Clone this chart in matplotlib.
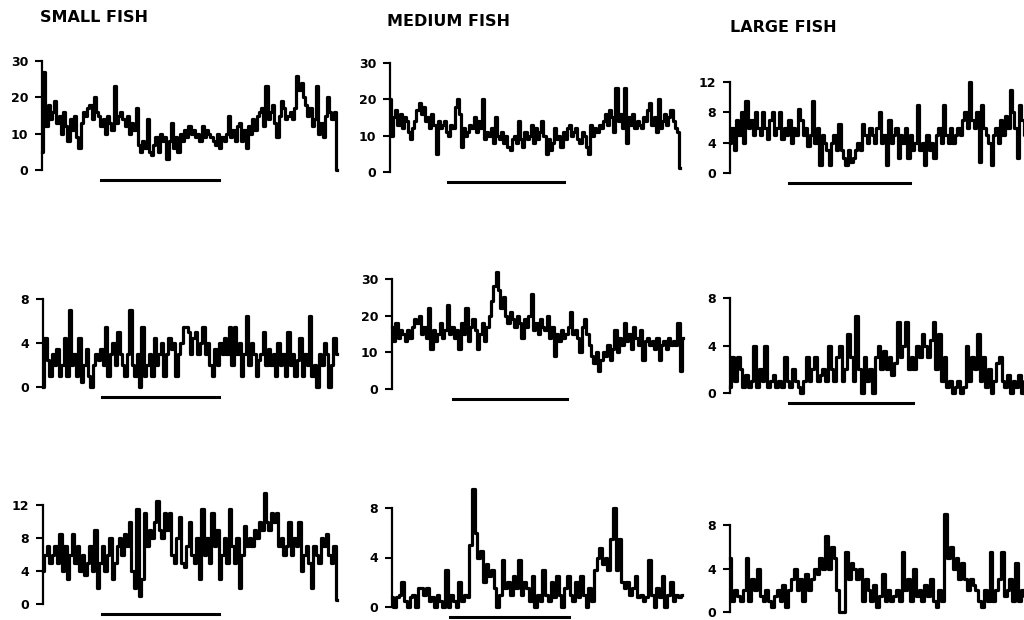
import numpy as np
import matplotlib
matplotlib.use("Agg")
import matplotlib.pyplot as plt

# activity traces, one list per panel
small_1 = [5, 27, 12, 18, 14, 16, 19, 13, 15, 10, 16, 12, 8, 14, 11, 15, 9, 6, 13, 16, 15, 17, 18, 14, 20, 16,
           15, 12, 14, 10, 15, 13, 11, 23, 13, 15, 16, 14, 12, 15, 10, 13, 11, 17, 7, 5, 8, 6, 14, 5, 4, 7, 9,
           5, 10, 8, 9, 3, 8, 13, 6, 9, 5, 10, 8, 11, 9, 12, 10, 11, 9, 10, 8, 12, 9, 11, 10, 9, 8, 7, 10, 6,
           9, 8, 10, 15, 9, 11, 8, 12, 13, 8, 11, 6, 12, 10, 14, 11, 15, 16, 17, 12, 23, 14, 16, 18, 13, 9, 15,
           19, 17, 14, 15, 16, 14, 17, 26, 22, 24, 20, 18, 15, 17, 12, 14, 23, 10, 13, 9, 15, 20, 16, 14, 16, 0]
medium_1 = [20, 10, 15, 17, 13, 16, 12, 15, 14, 11, 9, 12, 14, 17, 19, 16, 18, 14, 15, 12, 16, 13, 5, 14, 12,
            13, 14, 11, 10, 13, 12, 18, 20, 16, 7, 12, 10, 11, 13, 12, 15, 11, 14, 12, 20, 9, 11, 10, 12, 8,
            15, 10, 9, 11, 8, 10, 7, 6, 9, 10, 8, 14, 9, 7, 11, 9, 10, 13, 8, 12, 9, 11, 14, 10, 5, 9, 6, 8,
            12, 9, 10, 7, 11, 9, 12, 13, 10, 11, 12, 9, 8, 11, 10, 7, 5, 13, 10, 12, 11, 13, 12, 14, 16, 13,
            17, 15, 11, 23, 14, 16, 12, 23, 8, 15, 13, 16, 12, 14, 13, 12, 15, 14, 17, 19, 13, 15, 11, 20, 12,
            14, 16, 13, 15, 17, 14, 12, 11, 1]
large_1 = [4, 6, 3, 7, 5, 8, 4, 9.5, 6, 7, 5, 8, 6, 5, 8, 6, 4.5, 7, 8, 5, 6, 8, 4.5, 6, 5, 7, 4, 6, 5, 8.5,
           7, 5, 6, 3.5, 5, 9.5, 4, 6, 1, 5, 4, 3, 1, 4, 5, 3, 6.5, 3, 2, 1, 3, 1.5, 2, 3, 4, 3, 6.5, 5, 4, 6,
           5, 4, 6, 8, 4, 5, 1, 7, 4, 5, 6, 2, 5, 4, 6, 2, 5, 3, 4, 9, 3, 4, 1, 5, 3, 4, 2, 5, 6, 4, 9, 5, 4,
           6, 4, 5, 6, 5, 7, 8, 6, 12, 7, 6, 8, 1.5, 9, 6, 5, 4, 1, 5, 6, 4, 7, 5, 7.5, 6, 11, 8, 6, 2, 9, 7, 5]

small_2 = [0, 4.5, 2.5, 1, 3, 2, 3.5, 1, 2, 4.5, 1, 7, 2, 3, 1, 4.5, 0.5, 2, 3.5, 1, 0, 2, 3, 2.5, 3.5, 2,
           5.5, 1, 3, 4, 2, 5, 3, 2, 1, 3, 7, 2, 1, 3, 0, 5.5, 1, 2, 3, 1, 4.5, 2, 3, 4, 1, 3, 4.5, 3.5, 4, 1,
           3, 4, 5.5, 5.5, 5, 3, 4.5, 5, 3, 4, 5.5, 3, 4, 2, 1, 3.5, 2, 4, 3, 4.5, 3, 5.5, 2, 5.5, 3, 4, 1, 3,
           6.5, 2, 4, 3, 1, 2.5, 3, 5, 2, 3.5, 2, 3, 1, 4, 2, 3, 1, 5, 2, 3, 1, 2.5, 4.5, 1, 3, 2, 6.5, 1, 2,
           0, 3, 2, 4, 3, 0, 2, 4.5, 3]
medium_2 = [17, 13, 18, 14, 16, 15, 13, 16, 14, 17, 19, 18, 20, 15, 17, 14, 22, 11, 16, 13, 15, 18, 14, 16,
            23, 15, 17, 14, 16, 11, 18, 15, 22, 13, 17, 19, 16, 11, 15, 18, 13, 17, 20, 24, 28, 32, 27, 22,
            25, 20, 18, 21, 19, 17, 20, 18, 14, 19, 17, 20, 26, 16, 18, 15, 19, 17, 16, 20, 14, 17, 9, 15,
            13, 16, 14, 15, 17, 21, 15, 16, 14, 10, 17, 19, 15, 12, 9, 7, 10, 5, 8, 10, 9, 12, 8, 11, 16, 10,
            14, 12, 18, 13, 15, 11, 17, 14, 12, 16, 8, 13, 14, 12, 13, 11, 14, 8, 12, 13, 11, 14, 12, 13, 12,
            18, 5, 14]
large_2 = [0.5, 3, 1, 3, 2, 0.5, 1.5, 0.5, 1, 4, 0.5, 2, 1, 4, 0.5, 1, 1.5, 0.5, 1, 0.5, 3, 1, 0.5, 2, 1,
           0.5, 0, 1, 3, 1, 2, 3, 1, 1.5, 2, 1, 4, 2, 1, 3, 4, 1, 2, 5, 3, 1, 6.5, 2, 0, 3, 1, 2, 0, 3, 4, 2,
           3.5, 2, 3, 1.5, 2.5, 6, 3, 4, 6, 2, 3, 2, 4, 3, 5, 4, 3, 4.5, 6, 2, 5, 1, 3, 0.5, 1, 0, 0.5, 1, 0,
           0.5, 4, 1, 3, 2, 5, 1, 3, 0.5, 2, 0, 1, 2.5, 3, 1, 0.5, 1.5, 0, 1, 0.5, 1.5, 0, 1]

small_3 = [4, 6, 7, 5, 6, 7, 5, 8.5, 4, 7, 3, 6, 8.5, 5, 7, 4, 6, 3.5, 5, 7, 4, 9, 2, 5, 7, 4, 6, 8, 3, 5, 7,
           8, 6, 8.5, 7, 10, 4, 2, 11.5, 1, 3, 11, 7, 9, 8, 10, 12.5, 9, 8, 11, 9, 11, 6, 5, 8, 10.5, 5, 4.5,
           7, 10, 6, 5, 8, 3, 11.5, 6, 8, 5, 11, 7, 9, 3, 6, 8, 5, 11.5, 7, 5, 8, 2, 6, 9.5, 7, 8, 7, 9, 8,
           10, 9, 13.5, 10, 9, 11, 10, 11, 7, 8, 6, 7, 10, 6, 8, 7, 10, 4, 6, 7, 5, 2, 7, 6, 5, 8, 7, 8.5, 6,
           5, 7, 0.5]
medium_3 = [0.8, 0, 0.8, 1, 2, 0.5, 0, 0.8, 1, 0, 1.5, 1.5, 1, 1.5, 0.5, 0.8, 0, 1, 0.5, 0, 3, 0, 1, 0.5, 0,
            2, 0.5, 1, 0.8, 5, 9.5, 6, 4, 4.5, 2, 3.5, 2.5, 3, 1.5, 0, 1, 3.8, 1.5, 2, 1, 2.5, 1.5, 3.8, 1, 2,
            1.5, 0.5, 2.5, 0, 1, 0.5, 3, 1, 0.5, 2, 0.8, 2.5, 1, 0, 1.5, 2.5, 1, 0.5, 2, 0.8, 2.5, 1, 0, 1.5,
            0.5, 3, 4, 4.8, 3.5, 4, 3, 5.5, 8, 3, 5.5, 2, 1.5, 2, 1, 1.5, 2.5, 0.8, 1, 0.5, 0.8, 3.8, 1, 0,
            1.5, 0.8, 2.5, 0, 1, 2, 0.5, 1, 0.8, 1]
large_3 = [5, 1, 2, 1.5, 1, 2, 5, 1, 3, 2, 4, 1.5, 1, 2, 1, 0.5, 1.5, 2, 1, 2.5, 0.5, 2, 3, 4, 2, 3, 1, 3.5,
           2, 3, 4, 3.5, 5, 4, 7, 4, 6, 5, 2, 0, 0, 5.5, 3, 4.5, 4, 3, 4, 1, 3, 2, 1, 2.5, 0.5, 1.5, 3.5, 1,
           2, 1, 1.5, 2, 1, 5.5, 2, 3, 1, 4, 1.5, 2, 1, 2.5, 1.5, 3, 1, 0.5, 2, 1, 9, 5, 6, 4, 5, 3, 4.5, 3,
           2, 3, 2.5, 2, 1, 0.5, 2, 1, 5.5, 1, 2, 3, 5.5, 1.5, 2, 3, 1, 4.5, 1, 2, 1.5]

traces = [small_1, medium_1, large_1, small_2, medium_2, large_2, small_3, medium_3, large_3]
yticks = [[0, 10, 20, 30], [0, 10, 20, 30], [0, 4, 8, 12],
          [0, 4, 8], [0, 10, 20, 30], [0, 4, 8],
          [0, 4, 8, 12], [0, 4, 8], [0, 4, 8]]
# dark period as fraction of the record
dark = [(0.20, 0.60), (0.20, 0.60), (0.20, 0.61),
        (0.20, 0.60), (0.21, 0.60), (0.20, 0.62),
        (0.20, 0.60), (0.20, 0.61), (0.20, 0.61)]
titles = ["SMALL FISH", "MEDIUM FISH", "LARGE FISH"]

W, H = 1024, 620
# pixel boxes: left, right, y of zero, y of top tick
boxes = [(42, 337, 170, 61), (390, 680, 172, 63), (730, 1025, 173, 82),
         (43, 337, 387, 299), (392, 683, 389, 279), (730, 1025, 393, 298),
         (43, 337, 604, 505), (392, 682, 607, 508), (730, 1025, 612, 525)]

fig = plt.figure(figsize=(W / 100, H / 100), dpi=100)

for i, (l, r, y0, yt) in enumerate(boxes):
    ax = fig.add_axes([l / W, 1 - y0 / H, (r - l) / W, (y0 - yt) / H])
    y = traces[i]
    x = np.arange(len(y))
    ax.plot(x, y, color="black", lw=2.3, drawstyle="steps-mid", clip_on=False)
    ax.set_xlim(0, len(y) - 1)
    ax.set_ylim(0, yticks[i][-1])
    ax.set_yticks(yticks[i])
    ax.set_yticklabels([str(t) for t in yticks[i]], fontweight="bold", fontsize=9)
    ax.tick_params(axis="y", direction="out", length=5, width=1.5, pad=5)
    ax.set_xticks([])
    for s in ["top", "right", "bottom"]:
        ax.spines[s].set_visible(False)
    ax.spines["left"].set_linewidth(1.6)
    a, b = dark[i]
    off = -10 / (y0 - yt)
    ax.plot([a * (len(y) - 1), b * (len(y) - 1)], [off, off], color="black", lw=2.2,
            transform=ax.get_xaxis_transform(), clip_on=False)

title_pos = [(40, 17), (387, 22), (730, 27)]
for t, (px, py) in zip(titles, title_pos):
    fig.text(px / W, 1 - py / H, t, fontsize=11.5, fontweight="bold", va="center", ha="left")

fig.savefig("out.png", dpi=100)
